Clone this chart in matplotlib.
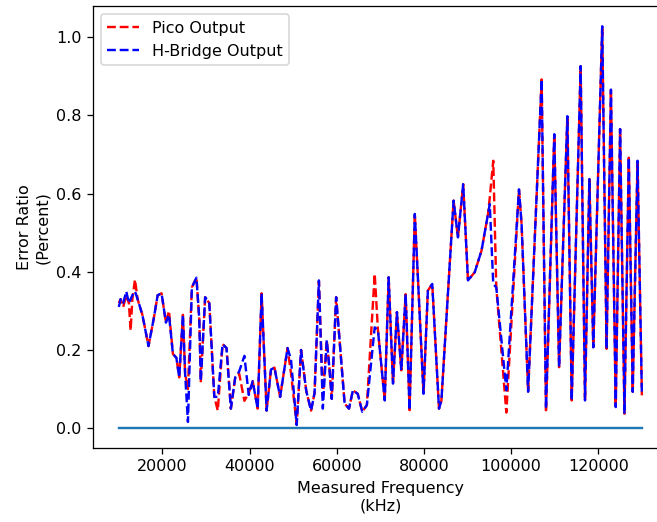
"""Error ratio vs measured frequency, Pico vs H-Bridge output."""

import matplotlib
matplotlib.use("Agg")
import matplotlib.pyplot as plt

# measured frequency (Hz) at each read-off vertex
freq = [10000, 10400, 11000, 11700, 12300, 12700, 13100, 13700, 14300, 15400,
        16800, 18000, 18900, 19800, 20800, 21500, 22400, 23200, 23850, 24700,
        25200, 25850, 26750, 27800, 28450, 28800, 29800, 30750, 31900, 32700,
        33800, 34700, 35700, 36700, 37600, 38800, 39800, 40700, 41850, 42750,
        43900, 44900, 45700, 47000, 48700, 49500, 50800, 51800, 53000, 54100,
        54900, 55900, 56800, 57700, 58300, 58850, 59850, 61800, 62800, 63700,
        64800, 65850, 66900, 68700, 69450, 71000, 71900, 72900, 73800, 74800,
        75800, 76700, 77900, 79900, 80900, 81900, 83450, 84000, 86800, 87800,
        89000, 90100, 91650, 93200, 94700, 95100, 95900, 96600, 98900, 101800,
        102400, 103900, 107000, 108000, 109900, 111000, 112900, 113900, 115950, 116950,
        117950, 118850, 120900, 121900, 122900, 124000, 125000, 126000, 127000, 127900,
        129000, 130000]

pico = [0.32, 0.33, 0.31, 0.34, 0.32, 0.25, 0.33, 0.38, 0.33, 0.29,
        0.21, 0.28, 0.34, 0.345, 0.27, 0.30, 0.19, 0.18, 0.13, 0.29,
        0.14, 0.10, 0.36, 0.385, 0.28, 0.12, 0.335, 0.32, 0.08, 0.045,
        0.215, 0.205, 0.05, 0.13, 0.14, 0.07, 0.09, 0.12, 0.05, 0.345,
        0.045, 0.15, 0.155, 0.08, 0.205, 0.14, 0.01, 0.20, 0.095, 0.045,
        0.09, 0.375, 0.08, 0.225, 0.155, 0.075, 0.335, 0.063, 0.05, 0.097,
        0.088, 0.042, 0.059, 0.395, 0.25, 0.071, 0.386, 0.114, 0.297, 0.148,
        0.343, 0.046, 0.548, 0.088, 0.352, 0.369, 0.05, 0.07, 0.582, 0.488,
        0.624, 0.378, 0.399, 0.454, 0.548, 0.59, 0.684, 0.36, 0.04, 0.611,
        0.522, 0.093, 0.892, 0.04, 0.752, 0.156, 0.798, 0.071, 0.926, 0.071,
        0.637, 0.207, 1.028, 0.203, 0.866, 0.054, 0.765, 0.037, 0.692, 0.093,
        0.684, 0.084]

hbridge = [0.31, 0.33, 0.32, 0.35, 0.32, 0.33, 0.34, 0.35, 0.33, 0.29,
           0.21, 0.28, 0.34, 0.345, 0.27, 0.29, 0.19, 0.18, 0.13, 0.29,
           0.14, 0.016, 0.36, 0.385, 0.28, 0.12, 0.335, 0.32, 0.08, 0.08,
           0.215, 0.205, 0.05, 0.13, 0.145, 0.185, 0.085, 0.12, 0.05, 0.345,
           0.045, 0.15, 0.155, 0.08, 0.205, 0.175, 0.008, 0.20, 0.095, 0.045,
           0.09, 0.378, 0.05, 0.225, 0.155, 0.075, 0.335, 0.063, 0.05, 0.097,
           0.088, 0.042, 0.059, 0.258, 0.25, 0.071, 0.386, 0.114, 0.297, 0.148,
           0.343, 0.046, 0.548, 0.088, 0.352, 0.369, 0.05, 0.07, 0.582, 0.488,
           0.624, 0.378, 0.399, 0.454, 0.548, 0.573, 0.369, 0.36, 0.097, 0.611,
           0.522, 0.093, 0.892, 0.05, 0.752, 0.156, 0.798, 0.071, 0.926, 0.071,
           0.637, 0.207, 1.028, 0.203, 0.866, 0.054, 0.765, 0.037, 0.692, 0.093,
           0.684, 0.084]

baseline_freq = [10000, 130000]
baseline = [0.0, 0.0]

DPI = 115
fig = plt.figure(figsize=(657 / DPI, 522 / DPI), dpi=DPI)
ax = fig.add_axes([0.1411, 0.1412, 0.8757, 0.847])
ax.plot(freq, pico, "r--", label="Pico Output")
ax.plot(freq, hbridge, "b--", label="H-Bridge Output")
ax.plot(baseline_freq, baseline)
ax.set_xlabel("Measured Frequency\n(kHz)")
ax.set_ylabel("Error Ratio\n(Percent)")
ax.legend(loc="upper left")
fig.savefig("out.png", dpi=DPI)
